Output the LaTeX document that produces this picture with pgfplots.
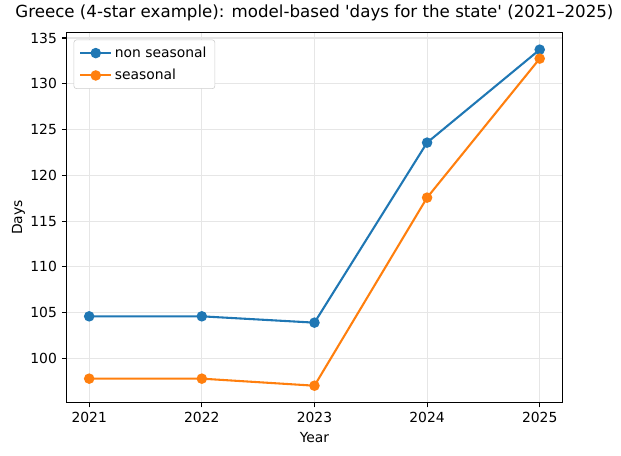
\documentclass[border=0pt]{standalone}
\usepackage{fontspec}
\setmainfont{DejaVu Sans}
\newfontfamily\plainfont{DejaVu Sans}
\usepackage{pgfplots}
\pgfplotsset{compat=1.18}

\definecolor{mplblue}{HTML}{1F77B4}
\definecolor{mplorange}{HTML}{FF7F0E}
\definecolor{gridgray}{HTML}{E6E6E6}

\begin{document}
\begin{tikzpicture}
	\begin{axis}[
		name=ax,
		scale only axis,
		width=356.8pt,
		height=266.4pt,
		xmin=2020.8, xmax=2025.2,
		ymin=95.16, ymax=135.59,
		xtick={2021,2022,2023,2024,2025},
		ytick={100,105,...,135},
		/pgf/number format/1000 sep={},
		/pgf/number format/assume math mode=true,
		tick label style={font=\plainfont\fontsize{10}{12}\selectfont},
		label style={font=\plainfont\fontsize{10}{12}\selectfont},
		ylabel style={yshift=-3pt},
		tick align=outside,
		tick pos=left,
		major tick length=3.5pt,
		every tick/.style={black, line width=0.8pt},
		axis line style={line width=0.8pt},
		grid=major,
		major grid style={gridgray, line width=0.8pt},
		xlabel=Year,
		ylabel=Days,
		title={\plainfont Greece (4-star example): model-based 'days for the state' (2021–2025)},
		title style={font=\plainfont\fontsize{12}{14}\selectfont, yshift=-1pt},
		legend cell align=left,
		legend style={at={(0,1)}, anchor=north west, xshift=5pt, yshift=-5pt,
			draw=black!20, rounded corners=2pt, font=\plainfont\fontsize{10}{12}\selectfont,
			inner xsep=4pt, inner ysep=3pt, row sep=3pt},
		legend image code/.code={
			\draw[#1] (0pt,0pt) -- (22pt,0pt);
			\draw[#1, only marks] plot coordinates {(11pt,0pt)};
		},
	]

	\addplot[mplblue, line width=1.5pt, mark=*, mark size=3pt] coordinates {
(2021, 104.59)
(2022, 104.59)
(2023, 103.90)
(2024, 123.57)
(2025, 133.73)
	};
	\addlegendentry{non seasonal}

	\addplot[mplorange, line width=1.5pt, mark=*, mark size=3pt] coordinates {
(2021, 97.78)
(2022, 97.78)
(2023, 97.01)
(2024, 117.56)
(2025, 132.75)
	};
	\addlegendentry{seasonal}
	\end{axis}
	\path ([shift={(-48pt,-37.9pt)}]ax.south west) rectangle ([shift={(42.3pt,23.3pt)}]ax.north east);
\end{tikzpicture}
\end{document}
